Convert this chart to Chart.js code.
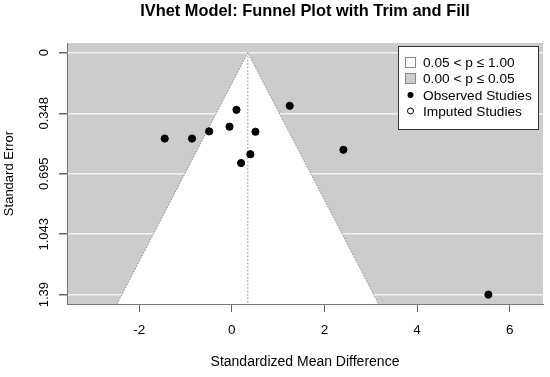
<!DOCTYPE html>
<html>
<head>
<meta charset="utf-8">
<script src="https://cdn.jsdelivr.net/npm/chart.js@4.4.0/dist/chart.umd.min.js"></script>
<style>
  html, body { margin: 0; padding: 0; background: #fff; }
</style>
</head>
<body>
<canvas id="chart" width="550" height="377"></canvas>
<script>
// observed studies (effect size, standard error)
const studyX  = [0.10, -0.05, -0.49, 0.51, -0.86, -1.45, 0.40, 0.20, 1.25, 2.41, 5.54];
const studySE = [0.328, 0.425, 0.452, 0.454, 0.493, 0.493, 0.583, 0.634, 0.305, 0.558, 1.39];

// pooled estimate and funnel outline (pseudo confidence region)
const estimate = 0.345;
const funnelX = [-2.48, 0.345, 3.17];
const funnelY = [1.444, 0, 1.444];

const xTicks = [-2, 0, 2, 4, 6];
const yTicks = [0, 0.348, 0.695, 1.043, 1.39];
const yTickLabels = ['0', '0.348', '0.695', '1.043', '1.39'];

const legendLabels = ['0.05 < p \u2264 1.00', '0.00 < p \u2264 0.05', 'Observed Studies', 'Imputed Studies'];

const FONT = '"Liberation Sans", Arial, Helvetica, sans-serif';

const bgPlugin = {
    id: 'bg',
    beforeDraw(chart) {
        const {ctx, chartArea: a} = chart;
        ctx.save();
        ctx.fillStyle = '#fff';
        ctx.fillRect(0, 0, chart.width, chart.height);
        ctx.fillStyle = '#cccccc';
        ctx.fillRect(a.left, a.top, a.right - a.left, a.bottom - a.top);
        ctx.restore();
    }
};

const textPlugin = {
    id: 'texts',
    afterDraw(chart) {
        const ctx = chart.ctx;
        const ys = chart.scales.y;
        ctx.save();
        // title
        ctx.fillStyle = '#000';
        ctx.font = 'bold 16.4px ' + FONT;
        ctx.textAlign = 'center';
        ctx.textBaseline = 'middle';
        ctx.fillText('IVhet Model: Funnel Plot with Trim and Fill', 305, 11.5);

        // y tick labels, rotated like R
        ctx.font = '13px ' + FONT;
        yTicks.forEach((v, i) => {
            const py = ys.getPixelForValue(v);
            ctx.save();
            ctx.translate(44, py);
            ctx.rotate(-Math.PI / 2);
            ctx.fillText(yTickLabels[i], 0, 0);
            ctx.restore();
        });

        // legend
        const lx = 398, ly = 46, lw = 140, lh = 83;
        ctx.fillStyle = '#fff';
        ctx.fillRect(lx, ly, lw, lh);
        ctx.strokeStyle = '#333';
        ctx.lineWidth = 1;
        ctx.strokeRect(lx + 0.5, ly + 0.5, lw, lh);
        const rows = [62, 78, 95, 111];
        ctx.textAlign = 'left';
        ctx.font = '13.7px ' + FONT;
        legendLabels.forEach((t, i) => {
            const cy = rows[i];
            if (i === 0 || i === 1) {
                ctx.fillStyle = i === 0 ? '#fff' : '#cccccc';
                ctx.fillRect(405, cy - 5, 10, 10);
                ctx.strokeStyle = '#888';
                ctx.strokeRect(405.5, cy - 4.5, 10, 10);
            } else {
                ctx.beginPath();
                ctx.arc(410.5, cy, 3, 0, Math.PI * 2);
                if (i === 2) { ctx.fillStyle = '#000'; ctx.fill(); }
                else { ctx.strokeStyle = '#000'; ctx.lineWidth = 1; ctx.stroke(); }
            }
            ctx.fillStyle = '#000';
            ctx.fillText(t, 423, cy + 1);
        });
        ctx.restore();
    }
};

const ctx = document.getElementById('chart').getContext('2d');
const chart = new Chart(ctx, {
    type: 'scatter',
    data: {
        datasets: [
            {
                label: 'Observed Studies',
                data: studyX.map((x, i) => ({x: x, y: studySE[i]})),
                backgroundColor: '#000',
                borderColor: '#000',
                pointRadius: 3.6,
                pointHoverRadius: 3.6
            },
            {
                label: 'estimate',
                data: [{x: estimate, y: 0}, {x: estimate, y: funnelY[0]}],
                showLine: true,
                borderColor: '#8a8a8a',
                borderWidth: 1,
                borderDash: [1.5, 2],
                pointRadius: 0
            },
            {
                label: 'funnel',
                data: funnelX.map((x, i) => ({x: x, y: funnelY[i]})),
                showLine: true,
                fill: {value: funnelY[0]},
                backgroundColor: '#ffffff',
                borderColor: '#8a8a8a',
                borderWidth: 1,
                borderDash: [1.5, 1.5],
                pointRadius: 0,
                tension: 0
            }
        ]
    },
    options: {
        responsive: false,
        animation: false,
        layout: {padding: {top: 43, left: 0, right: 7, bottom: 0}},
        plugins: {
            legend: {display: false},
            tooltip: {enabled: false},
            title: {display: false}
        },
        scales: {
            x: {
                type: 'linear',
                min: -3.56,
                max: 6.72,
                afterBuildTicks: s => { s.ticks = xTicks.map(v => ({value: v})); },
                afterFit: s => { s.height = 73; },
                grid: {drawOnChartArea: false, tickLength: 8, tickColor: '#666', lineWidth: 1},
                border: {display: true, color: '#777', width: 1},
                ticks: {color: '#000', font: {family: FONT, size: 13.5}, padding: 10, maxRotation: 0},
                title: {display: true, text: 'Standardized Mean Difference', color: '#000',
                        font: {family: FONT, size: 14}, padding: {top: 0, bottom: 6}}
            },
            y: {
                type: 'linear',
                reverse: true,
                min: -0.056,
                max: 1.444,
                afterBuildTicks: s => { s.ticks = yTicks.map(v => ({value: v})); },
                afterFit: s => { s.width = 67; },
                grid: {color: '#f2f2f2', lineWidth: 1.5, tickLength: 8, tickColor: '#666'},
                border: {display: true, color: '#777', width: 1},
                ticks: {display: false},
                title: {display: true, text: 'Standard Error', color: '#000',
                        font: {family: FONT, size: 13}, padding: {top: 2, bottom: 0}}
            }
        }
    },
    plugins: [bgPlugin, textPlugin]
});
</script>
</body>
</html>
